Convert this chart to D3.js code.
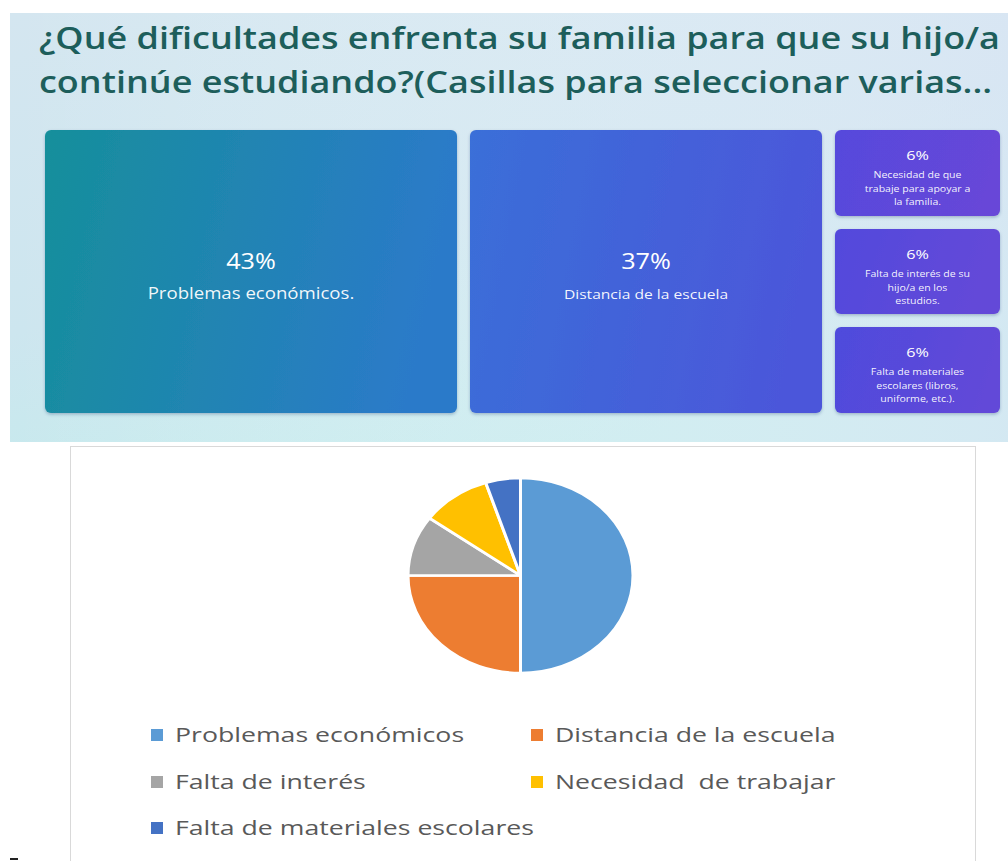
<!DOCTYPE html>
<html>
<head>
<meta charset="utf-8">
<script src="https://cdn.jsdelivr.net/npm/d3@7"></script>
<style>
  html, body { margin: 0; padding: 0; background: #ffffff; }
  svg { display: block; }
  text { font-family: "Open Sans", "Noto Sans", sans-serif; }
</style>
</head>
<body>
<svg id="chart" width="1008" height="861"></svg>
<script>
// ---------- data ----------
const titleLines = [
  "¿Qué dificultades enfrenta su familia para que su hijo/a",
  "continúe estudiando?(Casillas para seleccionar varias..."
];
// treemap (top panel)
const tileLabels = [
  "Problemas económicos.",
  "Distancia de la escuela",
  "Necesidad de que\ntrabaje para apoyar a\nla familia.",
  "Falta de interés de su\nhijo/a en los\nestudios.",
  "Falta de materiales\nescolares (libros,\nuniforme, etc.)."
];
const tileValues = [43, 37, 6, 6, 6];
// pie (bottom card)
const pieCategories = [
  "Problemas económicos",
  "Distancia de la escuela",
  "Falta de interés",
  "Necesidad  de trabajar",
  "Falta de materiales escolares"
];
const pieValues = [50, 25, 10, 10, 5];
const pieColors = ["#5B9BD5", "#ED7D31", "#A5A5A5", "#FFC000", "#4472C4"];

// ---------- drawing ----------
const svg = d3.select("#chart");
const defs = svg.append("defs");
const SX = 1.2; // horizontal stretch of the source picture

function stretch(sel, f) {
  sel.each(function () {
    const w = this.getComputedTextLength();
    d3.select(this).attr("textLength", w * f).attr("lengthAdjust", "spacingAndGlyphs");
  });
}

// panel background
const bg = defs.append("linearGradient").attr("id", "bgGrad")
  .attr("x1", "0%").attr("y1", "0%").attr("x2", "60%").attr("y2", "100%");
bg.append("stop").attr("offset", "0%").attr("stop-color", "#d4e6f0");
bg.append("stop").attr("offset", "55%").attr("stop-color", "#cde6ef");
bg.append("stop").attr("offset", "100%").attr("stop-color", "#c2ecec");
const bg2 = defs.append("linearGradient").attr("id", "bgGrad2")
  .attr("x1", "0%").attr("y1", "0%").attr("x2", "100%").attr("y2", "0%");
bg2.append("stop").attr("offset", "0%").attr("stop-color", "#ffffff").attr("stop-opacity", 0);
bg2.append("stop").attr("offset", "100%").attr("stop-color", "#dfe6f6").attr("stop-opacity", 0.6);

svg.append("rect").attr("x", 10).attr("y", 13).attr("width", 998).attr("height", 429)
  .attr("fill", "url(#bgGrad)");
svg.append("rect").attr("x", 10).attr("y", 13).attr("width", 998).attr("height", 429)
  .attr("fill", "url(#bgGrad2)");

// title
const title = svg.append("g").selectAll("text").data(titleLines).join("text")
  .attr("x", 39).attr("y", (d, i) => 49 + i * 44)
  .attr("fill", "#1d5e5b").attr("font-size", 31).attr("font-weight", 600)
  .text(d => d);
{
  const w0 = title.node().getComputedTextLength();
  const f = 961 / w0;
  stretch(title, f);
}

// treemap
const root = d3.hierarchy({
  children: [
    { name: tileLabels[0], value: tileValues[0] },
    { name: tileLabels[1], value: tileValues[1] },
    { children: tileLabels.slice(2).map((n, i) => ({ name: n, value: tileValues[i + 2] })) }
  ]
}).sum(d => d.value || 0);

d3.treemap().tile(d3.treemapSliceDice).size([955, 283]).paddingInner(13).round(true)(root);

const tileFills = [
  ["#168f9b", "#2b7ac9"],
  ["#3a6fd8", "#4b57da"],
  ["#5648dc", "#6747d8"],
  ["#5249dc", "#6449d8"],
  ["#4e4bdc", "#6249d8"]
];
const leaves = root.leaves();
leaves.forEach((d, i) => {
  const g = defs.append("linearGradient").attr("id", "tg" + i)
    .attr("x1", "0%").attr("y1", "0%").attr("x2", "100%").attr("y2", "15%");
  g.append("stop").attr("offset", "0%").attr("stop-color", tileFills[i][0]);
  g.append("stop").attr("offset", "100%").attr("stop-color", tileFills[i][1]);
});

const shadow = defs.append("filter").attr("id", "sh").attr("x", "-5%").attr("y", "-5%").attr("width", "110%").attr("height", "115%");
shadow.append("feDropShadow").attr("dx", 0).attr("dy", 1.5).attr("stdDeviation", 1.5)
  .attr("flood-color", "#1a3a6a").attr("flood-opacity", 0.3);

const tg = svg.append("g").attr("transform", "translate(45,130)");
const tiles = tg.selectAll("g.tile").data(leaves).join("g").attr("class", "tile")
  .attr("transform", d => `translate(${d.x0},${d.y0})`);
tiles.append("rect")
  .attr("width", d => d.x1 - d.x0).attr("height", d => d.y1 - d.y0)
  .attr("rx", 6).attr("fill", (d, i) => `url(#tg${i})`).attr("filter", "url(#sh)");

tiles.each(function (d, i) {
  const g = d3.select(this);
  const w = d.x1 - d.x0, h = d.y1 - d.y0;
  const big = i < 2;
  const pct = g.append("text").attr("x", w / 2).attr("text-anchor", "middle")
    .attr("fill", "#ffffff").attr("font-size", big ? 21 : 13.5)
    .attr("y", big ? h / 2 - 3 : 30)
    .text(d.data.value + "%");
  stretch(pct, SX);
  const lines = d.data.name.split("\n");
  const lt = g.append("g").selectAll("text").data(lines).join("text")
    .attr("x", w / 2).attr("text-anchor", "middle").attr("fill", "#ffffff")
    .attr("fill-opacity", 0.95)
    .attr("font-size", big ? (i === 0 ? 15.5 : 13) : 8.8)
    .attr("y", (t, k) => big ? h / 2 + 27 : 48 + k * 13.5)
    .text(t => t);
  stretch(lt, SX);
});

// card
svg.append("rect").attr("x", 70.5).attr("y", 446.5).attr("width", 905).attr("height", 430)
  .attr("fill", "#ffffff").attr("stroke", "#d9d9d9").attr("stroke-width", 1);

// pie
const pie = d3.pie().sort(null).value(d => d)(pieValues);
const arc = d3.arc().innerRadius(0).outerRadius(112.5);
const pg = svg.append("g").attr("transform", "translate(520.5,575.5) scale(1,0.867)");
pg.selectAll("path").data(pie).join("path")
  .attr("d", arc).attr("fill", (d, i) => pieColors[i])
  .attr("stroke", "#ffffff").attr("stroke-width", 3).attr("stroke-linejoin", "round");

// legend
const legPos = [[151, 735], [531, 735], [151, 782], [531, 782], [151, 828]];
const lg = svg.append("g").selectAll("g").data(pieCategories).join("g")
  .attr("transform", (d, i) => `translate(${legPos[i][0]},${legPos[i][1]})`);
lg.append("rect").attr("x", 0).attr("y", -6).attr("width", 12).attr("height", 12)
  .attr("fill", (d, i) => pieColors[i]);
const lt = lg.append("text").attr("x", 24).attr("y", 7).attr("fill", "#595959")
  .attr("font-size", 20.5).attr("xml:space", "preserve").style("white-space", "pre").text(d => d);
stretch(lt, 1.3);

// stray mark bottom-left
svg.append("rect").attr("x", 10).attr("y", 858).attr("width", 8).attr("height", 2).attr("fill", "#222");
</script>
</body>
</html>
